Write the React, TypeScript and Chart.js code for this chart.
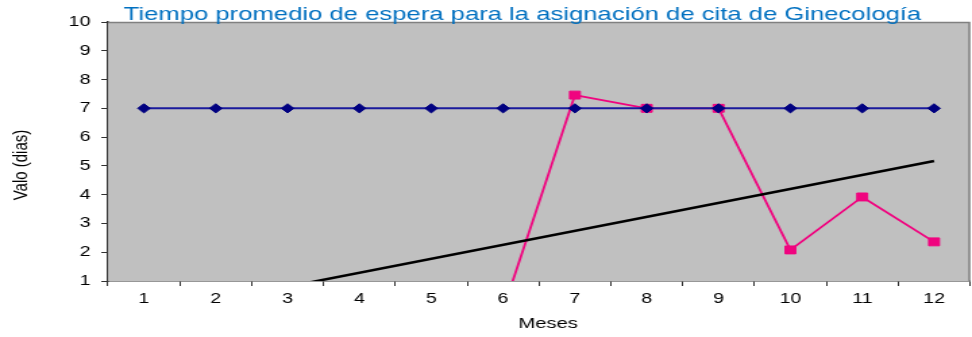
import React, { useEffect, useRef } from "react";
import { Chart, registerables } from "chart.js";

Chart.register(...registerables);

const months = ["1", "2", "3", "4", "5", "6", "7", "8", "9", "10", "11", "12"];
const standardValues = [7, 7, 7, 7, 7, 7, 7, 7, 7, 7, 7, 7];
const waitValues = [0, 0, 0, 0, 0, 0, 7.46, 7, 7, 2.08, 3.92, 2.36];
// Trend line: value at month 1 and at month 12
const trendValues = [-0.17, null, null, null, null, null, null, null, null, null, null, 5.17];

const titleText = "Tiempo promedio de espera para la asignación de cita de Ginecología";
const yTitle = "Valo (dias)";
const xTitle = "Meses";

const W = 720;
const H = 337;
const FONT = "'Liberation Sans', Arial, sans-serif";

export default function App() {
  const ref = useRef<HTMLCanvasElement>(null);
  useEffect(() => {
    document.body.style.margin = "0";
    const canvas = ref.current!;
    const decor = {
      id: "decor",
      beforeDatasetsDraw(chart: any) {
        const { ctx, chartArea: a } = chart;
        ctx.save();
        ctx.fillStyle = "#C0C0C0";
        ctx.fillRect(a.left, a.top, a.right - a.left, a.bottom - a.top);
        ctx.strokeStyle = "#808080";
        ctx.lineWidth = 1.5;
        ctx.beginPath();
        ctx.moveTo(a.left, a.top + 0.5);
        ctx.lineTo(a.right - 0.5, a.top + 0.5);
        ctx.lineTo(a.right - 0.5, a.bottom);
        ctx.stroke();
        ctx.restore();
      },
      afterDraw(chart: any) {
        const { ctx } = chart;
        ctx.save();
        ctx.fillStyle = "#0070C0";
        ctx.font = `19px ${FONT}`;
        ctx.textAlign = "center";
        ctx.textBaseline = "alphabetic";
        ctx.fillText(titleText, 387, 20);
        ctx.fillStyle = "#000";
        ctx.font = `15px ${FONT}`;
        ctx.fillText(xTitle, 406, 328);
        ctx.translate(16, 165);
        ctx.rotate(-Math.PI / 2);
        ctx.textBaseline = "middle";
        ctx.fillText(yTitle, 0, 0);
        ctx.restore();
      },
    };
    const chart = new Chart(canvas, {
      type: "line",
      data: {
        labels: months,
        datasets: [
          {
            data: standardValues,
            borderColor: "#1A1A9C",
            borderWidth: 2,
            backgroundColor: "#000080",
            pointBackgroundColor: "#000080",
            pointBorderColor: "#000080",
            pointStyle: "rectRot",
            pointRadius: 4.6,
            pointBorderWidth: 1,
            tension: 0,
          },
          {
            data: trendValues,
            borderColor: "#000000",
            borderWidth: 2.5,
            pointRadius: 0,
            spanGaps: true,
            tension: 0,
          },
          {
            data: waitValues,
            borderColor: "#F0047F",
            borderWidth: 1.8,
            pointBackgroundColor: "#F0047F",
            pointBorderColor: "#F0047F",
            pointStyle: "rect",
            pointRadius: 5.6,
            pointBorderWidth: 1,
            tension: 0,
          },
        ],
      },
      options: {
        animation: false,
        responsive: false,
        devicePixelRatio: 1,
        events: [],
        layout: { autoPadding: false, padding: { top: 22, right: 1.5, left: 0, bottom: 0 } },
        plugins: { legend: { display: false }, tooltip: { enabled: false }, title: { display: false } },
        scales: {
          x: {
            type: "category",
            offset: true,
            grid: { offset: true, drawOnChartArea: false, drawTicks: true, tickLength: 5, color: "#303030", lineWidth: 1 },
            border: { display: true, color: "#303030", width: 1.5 },
            ticks: { color: "#000", font: { family: FONT, size: 14.5 }, padding: 4, maxRotation: 0, autoSkip: false },
            afterFit: (s: any) => {
              s.height = 56;
              s.paddingLeft = 0;
              s.paddingRight = 0;
            },
          },
          y: {
            min: 1,
            max: 10,
            grid: { drawOnChartArea: false, drawTicks: true, tickLength: 5, color: "#303030", lineWidth: 1 },
            border: { display: true, color: "#303030", width: 1.5 },
            ticks: { stepSize: 1, color: "#000", font: { family: FONT, size: 14.5 }, padding: 8 },
            afterFit: (s: any) => { s.width = 80; },
          },
        },
      },
      plugins: [decor],
    });
    return () => chart.destroy();
  }, []);
  return (
    <div style={{ width: 972, height: 337 }}>
      <canvas ref={ref} width={W} height={H} style={{ width: "972px", height: "337px", display: "block" }} />
    </div>
  );
}
